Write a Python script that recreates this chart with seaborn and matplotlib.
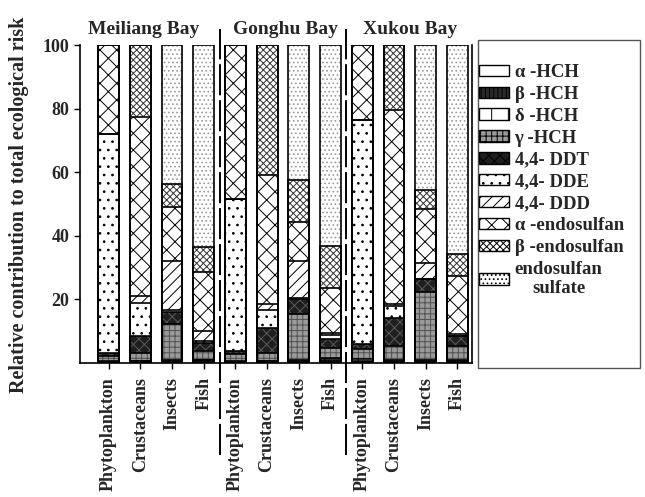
import numpy as np
import pandas as pd
import matplotlib
matplotlib.use("Agg")
import matplotlib.pyplot as plt
import matplotlib.transforms as mtransforms
from matplotlib.patches import Patch, Rectangle
import seaborn as sns

# ---------------- data ----------------
bays = ["Meiliang Bay", "Gonghu Bay", "Xukou Bay"]
organisms = ["Phytoplankton", "Crustaceans", "Insects", "Fish"]
components = ["α -HCH", "β -HCH", "δ -HCH", "γ -HCH", "4,4- DDT", "4,4- DDE",
              "4,4- DDD", "α -endosulfan", "β -endosulfan", "endosulfan\nsulfate"]

# values per bar: Meiliang (P, C, I, F), Gonghu (P, C, I, F), Xukou (P, C, I, F)
a_hch   = [0.2, 0.2, 0.2, 0.2,   0.2, 0.2, 0.2, 0.2,   0.2, 0.2, 0.2, 0.2]
b_hch   = [0.2, 0.3, 0.3, 0.6,   0.2, 0.3, 0.3, 0.8,   0.3, 0.3, 0.3, 0.3]
d_hch   = [0.1, 0.2, 0.3, 0.3,   0.2, 0.2, 0.3, 0.5,   0.8, 0.3, 0.3, 0.3]
g_hch   = [1.8, 2.5, 11.5, 2.7,  2.2, 2.6, 14.6, 3.3,  3.0, 4.6, 21.4, 4.4]
ddt     = [1.0, 5.3, 3.8, 2.6,   1.0, 7.6, 4.6, 2.7,   1.6, 8.9, 4.2, 3.3]
dde     = [68.8, 10.5, 0.5, 0.5, 47.8, 5.7, 0.4, 1.2,  70.4, 3.7, 0.0, 0.0]
ddd     = [0.0, 2.1, 15.6, 3.2,  0.0, 1.9, 11.8, 0.8,  0.0, 0.5, 5.2, 0.5]
a_endo  = [27.9, 56.3, 16.8, 18.4, 48.4, 40.5, 12.1, 14.0, 23.7, 61.0, 16.9, 18.4]
b_endo  = [0.0, 22.6, 7.4, 7.9,  0.0, 41.0, 13.1, 13.4, 0.0, 20.5, 5.8, 6.9]
sulfate = [0.0, 0.0, 43.6, 63.6, 0.0, 0.0, 42.6, 63.1, 0.0, 0.0, 45.7, 65.7]

series = [a_hch, b_hch, d_hch, g_hch, ddt, dde, ddd, a_endo, b_endo, sulfate]

# ---------------- table ----------------
bar_keys = [f"{b}|{o}" for b in bays for o in organisms]
rows = []
for comp, vals in zip(components, series):
    for key, v in zip(bar_keys, vals):
        rows.append({"bar": key, "component": comp, "value": v})
df = pd.DataFrame(rows)
df["component"] = pd.Categorical(df["component"], categories=components, ordered=True)
df = df.sort_values(["bar", "component"])
df["top"] = df.groupby("bar")["value"].cumsum()

# styles: facecolor, hatch, hatch colour
styles = {
    "α -HCH": ("white", "", "black"),
    "β -HCH": ("#2a2a2a", "||||", "#777777"),
    "δ -HCH": ("white", "+", "black"),
    "γ -HCH": ("#9a9a9a", "+++", "#505050"),
    "4,4- DDT": ("#1e1e1e", "xxx", "#5a5a5a"),
    "4,4- DDE": ("white", "..", "black"),
    "4,4- DDD": ("white", "///", "black"),
    "α -endosulfan": ("white", "xx", "black"),
    "β -endosulfan": ("white", "xxxxx", "#333333"),
    "endosulfan\nsulfate": ("white", "....", "#9a9a9a"),
}

# ---------------- figure ----------------
sns.set_style("ticks")
plt.rcParams["font.family"] = ["Liberation Serif", "DejaVu Serif"]
plt.rcParams["font.weight"] = "bold"
plt.rcParams["hatch.linewidth"] = 0.7

W, H = 645, 497
fig = plt.figure(figsize=(W / 100, H / 100), dpi=100)
ax = fig.add_axes([80 / W, 1 - 363 / H, (472 - 80) / W, 318 / H])

for comp in reversed(components):
    sub = df[df["component"] == comp]
    fc, hatch, hc = styles[comp]
    n0 = len(ax.patches)
    sns.barplot(data=sub, x="bar", y="top", order=bar_keys, color=fc,
                width=0.66, errorbar=None, ax=ax)
    for p in ax.patches[n0:]:
        p.set_facecolor(fc)
        p.set_edgecolor(hc)
        p.set_hatch(hatch if hatch else None)
        p.set_linewidth(0)

for comp in components:
    sub = df[df["component"] == comp]
    n0 = len(ax.patches)
    sns.barplot(data=sub, x="bar", y="top", order=bar_keys, color="black",
                width=0.66, errorbar=None, fill=False, ax=ax)
    for p in ax.patches[n0:]:
        p.set_facecolor("none")
        p.set_edgecolor("black")
        p.set_hatch(None)
        p.set_linewidth(1.2)

ax.set_xlim(-0.9, 11.46)
ax.set_ylim(0, 100)
ax.set_yticks([20, 40, 60, 80, 100])
ax.set_yticklabels(["20", "40", "60", "80", "100"], fontsize=13, fontweight="bold")
ax.set_xticks(range(len(bar_keys)))
ax.set_xticklabels(organisms * len(bays), rotation=90, fontsize=13, fontweight="bold")
ax.set_xlabel("")
ax.set_ylabel("")
ax.tick_params(axis="both", direction="out", length=4, width=1, color="black")
ax.tick_params(axis="x", pad=6)
ax.spines["top"].set_visible(False)
for s in ["left", "bottom", "right"]:
    ax.spines[s].set_color("black")
    ax.spines[s].set_linewidth(1.2)

# dashed separators between bays
trans = mtransforms.blended_transform_factory(ax.transData, ax.transAxes)
for xs in [3.5, 7.5]:
    ax.plot([xs, xs], [-0.29, 1.05], transform=trans, clip_on=False,
            color="black", lw=1.4, ls=(0, (16, 2.5)))

# bay titles
for bname, xc in zip(bays, [1.1, 5.57, 9.5]):
    ax.text(xc, 1 - 30 / H, bname,
            transform=mtransforms.blended_transform_factory(ax.transData, fig.transFigure),
            ha="center", va="center", fontsize=14, fontweight="bold")

fig.text(19 / W, 1 - 205 / H, "Relative contribution to total ecological risk",
         rotation=90, ha="center", va="center", fontsize=14.5, fontweight="bold")

# legend box + legend
fig.patches.append(Rectangle((478 / W, 1 - 368 / H), 162 / W, 328 / H,
                             transform=fig.transFigure, fill=False,
                             edgecolor="#555555", lw=1.0))
handles = [Patch(facecolor=styles[c][0], hatch=styles[c][1] or None,
                 edgecolor="black", linewidth=1.0) for c in components]
leg = fig.legend(handles, components, loc="upper left",
                 bbox_to_anchor=(479 / W, 1 - 64 / H), frameon=False,
                 prop={"family": "Liberation Serif", "weight": "bold", "size": 13.5},
                 handlelength=1.6, handleheight=0.55, handletextpad=0.3,
                 labelspacing=0.26, borderpad=0.0, borderaxespad=0.0)
leg.get_texts()[-1].set_multialignment("center")

fig.savefig("out.png", dpi=100)
